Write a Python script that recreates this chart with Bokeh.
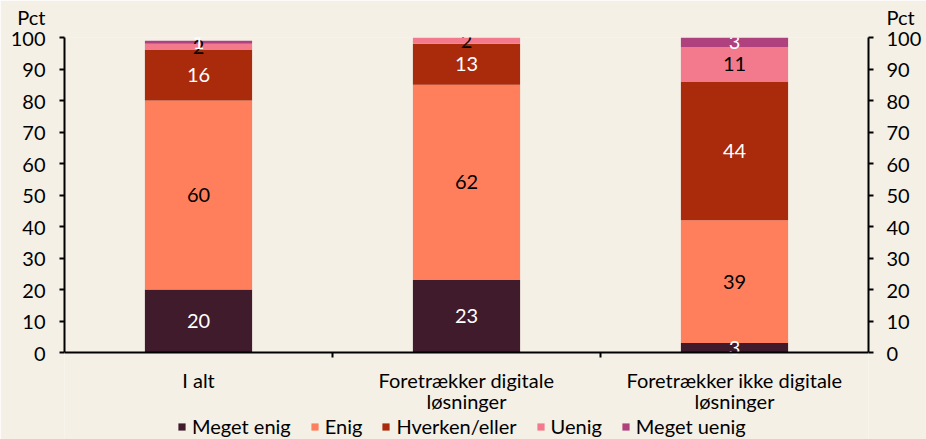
import math
from bokeh.plotting import figure
from bokeh.models import (ColumnDataSource, FactorRange, Range1d, LinearAxis,
                          FixedTicker, Legend, LegendItem, Span)
from bokeh.core.properties import value
from bokeh.embed import file_html
from bokeh.resources import INLINE

# ---- data ----
categories = ["I alt", "Foretrækker digitale\nløsninger", "Foretrækker ikke digitale\nløsninger"]
series_names = ["Meget enig", "Enig", "Hverken/eller", "Uenig", "Meget uenig"]
meget_enig = [20, 23, 3]
enig = [60, 62, 39]
hverken_eller = [16, 13, 44]
uenig = [2, 2, 11]
meget_uenig = [1, 0, 3]
y_ticks = [0, 10, 20, 30, 40, 50, 60, 70, 80, 90, 100]
y_max = 100
unit_label = "Pct"

series_values = [meget_enig, enig, hverken_eller, uenig, meget_uenig]
series_colors = ["#3F1B2C", "#FF7F5C", "#AA2A0C", "#F37A8D", "#B0417F"]
value_text_colors = ["#FFFFFF", "#000000", "#FFFFFF", "#000000", "#FFFFFF"]

FONT = "Lato"
FS = "20px"
BG = "#F4F0E6"

# ---- layout (pixels) ----
W, H = 926, 439
TOP, LEFT, RIGHT = 37, 64, 58
AXIS_PX = 315            # pixel height of the 0..100 value span
frame_px = H - TOP        # frame reaches the bottom so the legend/category labels are inside it
y_start = -y_max * (frame_px - AXIS_PX) / AXIS_PX

keys = [f"s{i}" for i in range(len(series_names))]
data = {"cat": categories}
for k, vals in zip(keys, series_values):
    data[k] = vals
source = ColumnDataSource(data)

p = figure(x_range=FactorRange(*categories, range_padding=0, factor_padding=0),
           y_range=Range1d(y_start, y_max),
           width=W, height=H,
           min_border_left=LEFT, min_border_right=RIGHT, min_border_top=TOP, min_border_bottom=0,
           output_backend="svg", toolbar_location=None, title=None,
           x_axis_location=None, y_axis_location=None,
           background_fill_color=BG, border_fill_color=BG, outline_line_color=None)
p.xgrid.grid_line_color = None
p.ygrid.grid_line_color = None

renderers = p.vbar_stack(keys, x="cat", width=0.4, color=series_colors,
                         line_color=None, source=source)

# value labels in segment centres
lx, ly, lt, lc = [], [], [], []
for ci, cat in enumerate(categories):
    base = 0
    for si, vals in enumerate(series_values):
        v = vals[ci]
        if v > 0:
            lx.append(cat)
            ly.append(base + v / 2)
            lt.append(str(v))
            lc.append(value_text_colors[si])
        base += v
lab_src = ColumnDataSource(dict(x=lx, y=ly, t=lt, c=lc))
p.text(x="x", y="y", text="t", text_color="c", source=lab_src,
       text_align="center", text_baseline="middle",
       text_font=value(FONT), text_font_size=FS)

# category axis: line at 0, ticks at category boundaries, labels below
p.add_layout(Span(location=0, dimension="width", line_color="black", line_width=2))
boundaries = list(range(1, len(categories)))
p.ray(x=boundaries, y=[0] * len(boundaries), length=5, length_units="screen",
      angle=-math.pi / 2, line_color="black", line_width=2)
p.text(x=categories, y=[0] * len(categories), text=categories,
       text_align="center", text_baseline="top", y_offset=15,
       text_line_height=0.9, text_color="black",
       text_font=value(FONT), text_font_size=FS)


def style_y(ax, standoff):
    ax.ticker = FixedTicker(ticks=y_ticks)
    ax.bounds = (0, y_max)
    ax.axis_line_width = 2
    ax.axis_line_color = "black"
    ax.major_tick_line_width = 2
    ax.major_tick_line_color = "black"
    ax.major_tick_in = 0
    ax.major_tick_out = 5
    ax.minor_tick_line_color = None
    ax.major_label_text_font = FONT
    ax.major_label_text_font_size = FS
    ax.major_label_text_line_height = 0.85
    ax.major_label_text_color = "black"
    ax.major_label_standoff = standoff
    # unit label sits above the top tick label
    ax.major_label_overrides = {y_max: f"{unit_label}\n{y_max}\n "}


left = LinearAxis()
style_y(left, 14)
p.add_layout(left, "left")
right = LinearAxis()
style_y(right, 13)
p.add_layout(right, "right")

legend = Legend(items=[LegendItem(label=n, renderers=[r]) for n, r in zip(series_names, renderers)],
                orientation="horizontal", location=(113, 1),
                background_fill_alpha=0, border_line_color=None,
                padding=0, margin=0, spacing=19,
                glyph_width=9, glyph_height=9, label_standoff=6,
                label_text_font=FONT, label_text_font_size=FS, label_text_color="black")
p.add_layout(legend, "center")

open("out.html", "w").write(file_html(p, INLINE))
